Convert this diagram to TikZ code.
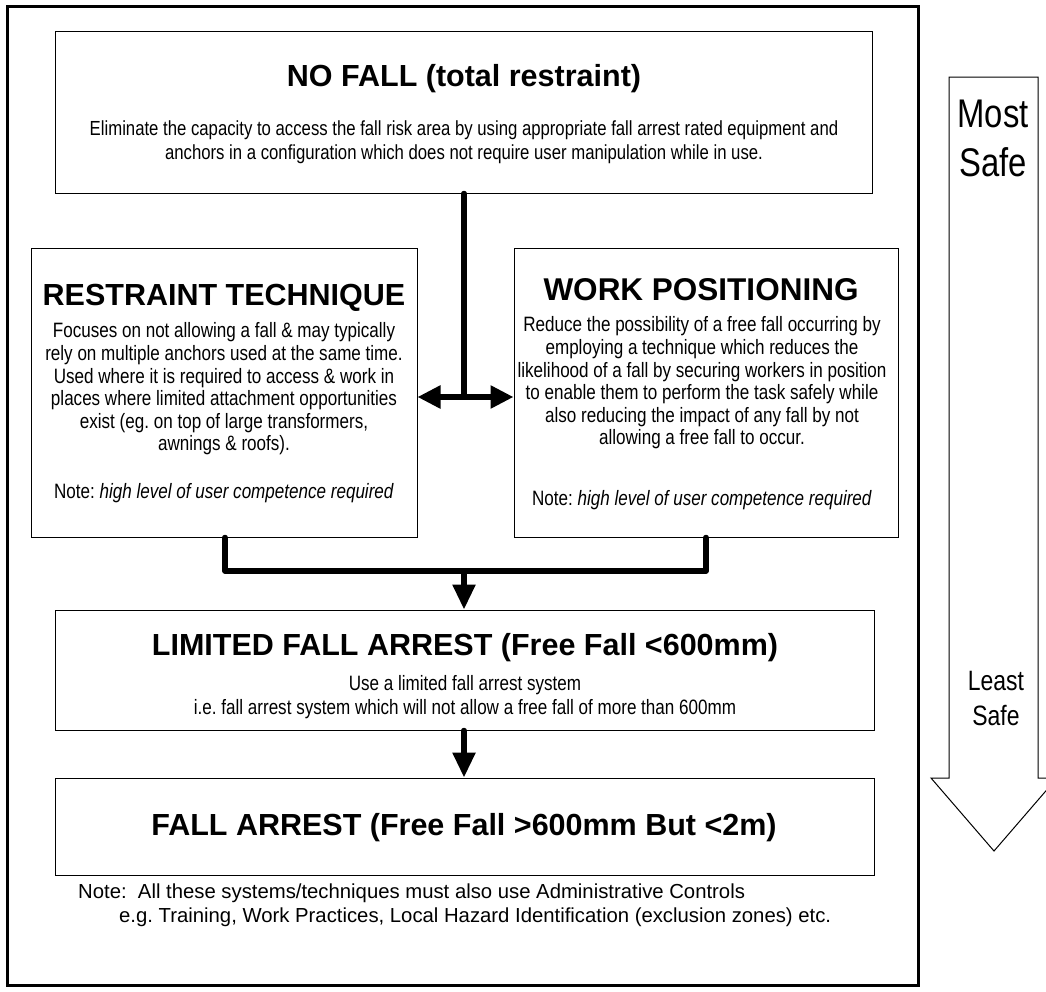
\documentclass[tikz,border=0pt]{standalone}
\usepackage{fontspec}
\setmainfont{Liberation Sans}
\newfontfamily\narrowfont{Liberation Sans}[FakeStretch=0.82]
\usetikzlibrary{arrows.meta,calc}
\begin{document}
\frenchspacing
\begin{tikzpicture}[x=1pt,y=-1pt,
  box/.style={draw=black, line width=1pt, inner sep=0pt, fill=white},
  ttl/.style={font=\fontsize{30.5}{34}\selectfont\bfseries, inner sep=0pt, anchor=center},
  bod/.style={font=\narrowfont\fontsize{20.8}{22.6}\selectfont, align=center, inner sep=0pt},
  notetxt/.style={font=\fontsize{20.3}{23}\selectfont, inner sep=0pt, anchor=west},
  conn/.style={line width=5.5pt, line cap=round, line join=round},
  tipend/.style={-{Triangle[width=22pt,length=25pt]}},
  tipboth/.style={{Triangle[width=22pt,length=23pt]}-{Triangle[width=22pt,length=23pt]}}
]
\useasboundingbox (0,0) rectangle (1046,991);
% outer frame
\draw[line width=3pt] (7,6) rectangle (918,985);

% boxes
\node[box, minimum width=817pt, minimum height=162pt] (nofall) at (463.5,112) {};
\node[box, minimum width=386pt, minimum height=289pt] (rt) at (224,392.5) {};
\node[box, minimum width=384pt, minimum height=289pt] (wp) at (706,392.5) {};
\node[box, minimum width=819pt, minimum height=120pt] (lim) at (464.5,670) {};
\node[box, minimum width=819pt, minimum height=97pt] (fa) at (464.5,826.5) {};

% texts
\node[ttl] (nofallT) at (464,79) {NO FALL (total restraint)};
\node[bod, font=\narrowfont\fontsize{20.4}{24.5}\selectfont] (nofallB) at (464,142) {Eliminate the capacity to access the fall risk area by using appropriate fall arrest rated equipment and\\anchors in a configuration which does not require user manipulation while in use.};

\node[ttl] (rtT) at (224,298) {RESTRAINT TECHNIQUE};
\node[bod] (rtB) at (224,389) {Focuses on not allowing a fall \& may typically\\rely on multiple anchors used at the same time.\\Used where it is required to access \& work in\\places where limited attachment opportunities\\exist (eg. on top of large transformers,\\awnings \& roofs).};
\node[bod] (rtN) at (224,493) {Note: \textit{high level of user competence required}};

\node[ttl, font=\fontsize{31.5}{35}\selectfont\bfseries] (wpT) at (701,290) {WORK POSITIONING};
\node[bod] (wpB) at (702,383) {Reduce the possibility of a free fall occurring by\\employing a technique which reduces the\\likelihood of a fall by securing workers in position\\to enable them to perform the task safely while\\also reducing the impact of any fall by not\\allowing a free fall to occur.};
\node[bod] (wpN) at (702,500) {Note: \textit{high level of user competence required}};

\node[ttl] (limT) at (465,648) {LIMITED FALL ARREST (Free Fall <600mm)};
\node[bod, font=\narrowfont\fontsize{20.8}{23.5}\selectfont] (limB) at (465,697) {Use a limited fall arrest system\\i.e. fall arrest system which will not allow a free fall of more than 600mm};

\node[ttl] (faT) at (464,828) {FALL ARREST (Free Fall >600mm But <2m)};

\node[notetxt] (note1) at (78,893) {Note:\ \ All these systems/techniques must also use Administrative Controls};
\node[notetxt] (note2) at (119,917) {e.g. Training, Work Practices, Local Hazard Identification (exclusion zones) etc.};

% connectors
\coordinate (hub) at (464,397);
\coordinate (mL) at (225,571);
\coordinate (mR) at (706,571);
\coordinate (mC) at (464,571);
\draw[conn] (hub |- nofall.south) -- (hub);
\draw[conn, tipboth] (rt.east |- hub) -- (wp.west |- hub);
\draw[conn] (mL |- rt.south) -- (mL) -- (mR) -- (mR |- wp.south);
\draw[conn, tipend] (mC) -- (mC |- lim.north);
\draw[conn, tipend] (mC |- lim.south) -- (mC |- fa.north);

% safety arrow
\draw[line width=1pt, fill=white] (949,77) -- (1038,77) -- (1038,778) -- (1057,778) -- (994,851) -- (931,778) -- (949,778) -- cycle;
\node[inner sep=0pt, align=center, font=\narrowfont\fontsize{40}{49}\selectfont] (most) at (993,138) {Most\\Safe};
\node[inner sep=0pt, align=center, font=\narrowfont\fontsize{28}{35}\selectfont] (least) at (996,698) {Least\\Safe};
\end{tikzpicture}
\end{document}
